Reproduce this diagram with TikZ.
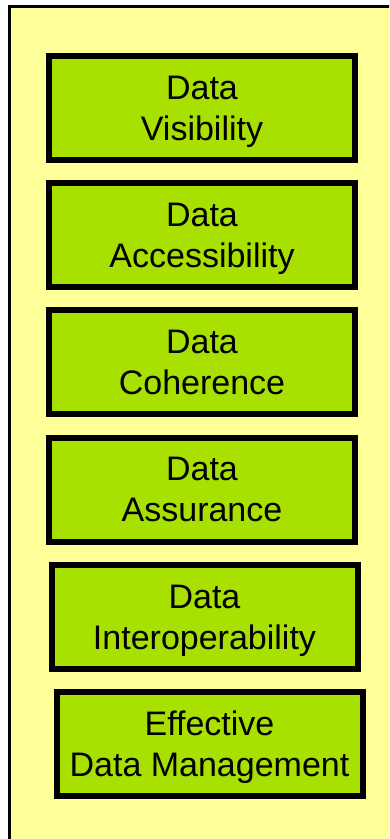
\documentclass[tikz,border=0pt]{standalone}
\usepackage{fontspec}
\setmainfont{Liberation Sans}
\usetikzlibrary{shapes,arrows.meta}

\definecolor{panelyellow}{RGB}{255,255,153}
\definecolor{boxgreen}{RGB}{168,224,0}

\begin{document}
\begin{tikzpicture}[x=1pt,y=-1pt]
	\tikzstyle{every node}=[font=\fontsize{34}{41}\selectfont]
	\tikzstyle{databox}=[draw=black, line width=6pt, fill=boxgreen, align=center, inner sep=0pt, text depth=0pt, minimum width=306pt, minimum height=104pt]

	\useasboundingbox (0.0000,0.0000) rectangle (389.0000,839.0000);

	%%background panel
	\begin{scope}
		\clip (0.0000,0.0000) rectangle (389.0000,839.0000);
		\draw [line width=3pt, fill=panelyellow]  (9.0000,6.0000) rectangle (398.0000,848.0000);
	\end{scope}

	\node [databox] (visibility)    at (202.0000,108.0000) {Data\\Visibility};
	\node [databox] (accessibility) at (202.0000,235.0000) {Data\\Accessibility};
	\node [databox] (coherence)     at (202.0000,362.0000) {Data\\Coherence};
	\node [databox] (assurance)     at (202.0000,489.5000) {Data\\Assurance};
	\node [databox] (interop)       at (204.5000,617.0000) {Data\\Interoperability};
	\node [databox] (management)    at (209.5000,744.0000) {Effective\\Data Management};

\end{tikzpicture}
\end{document}
